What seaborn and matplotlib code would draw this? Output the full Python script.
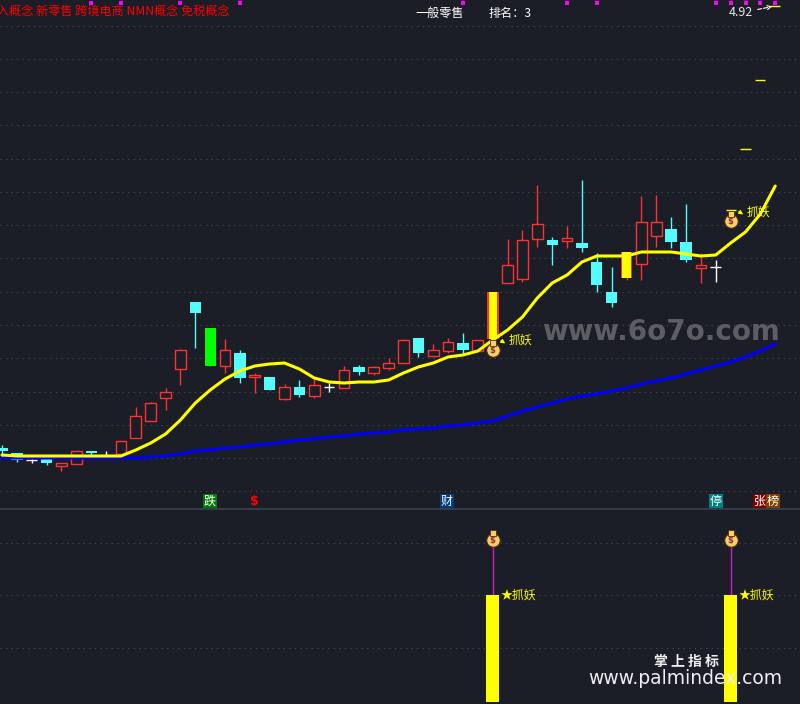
import matplotlib
matplotlib.use("Agg")
import numpy as np
import pandas as pd
import matplotlib.pyplot as plt
import seaborn as sns

# candles (height above the pane bottom)
kinds = list("ccwcr rcwr rrrr cgrc rcrc rwrc rrrc rrcr yrrr crcc cyrr ccrw".replace(" ", ""))
body_top = [60, 55, 48, 49, 45, 57, 57, 52, 67, 92, 105, 116, 158, 206, 180, 158, 155, 133, 131, 121,
            121, 123, 121, 138, 141, 141, 145, 168, 170, 158, 166, 165, 168, 216, 243, 268, 284, 268,
            270, 265, 246, 216, 256, 286, 286, 279, 266, 243, 241]
body_bot = [57, 48, 48, 45, 42, 44, 55, 52, 54, 70, 87, 110, 139, 195, 142, 142, 130, 131, 118, 109,
            113, 112, 121, 120, 136, 135, 140, 145, 155, 152, 157, 158, 157, 169, 225, 229, 269, 263,
            267, 260, 223, 205, 230, 244, 272, 266, 248, 240, 241]
highs = [63, 55, 50, 49, 45, 57, 57, 57, 67, 101, 106, 120, 159, 206, 180, 169, 158, 135, 131, 124,
         128, 129, 125, 142, 143, 142, 150, 169, 170, 164, 170, 175, 168, 216, 269, 278, 323, 271,
         282, 328, 255, 241, 256, 312, 313, 291, 304, 255, 248]
lows = [51, 46, 45, 43, 37, 44, 52, 51, 54, 70, 87, 98, 123, 160, 142, 135, 125, 115, 118, 108,
        111, 110, 116, 120, 133, 133, 138, 145, 151, 151, 155, 154, 157, 169, 225, 226, 261, 243,
        260, 256, 216, 201, 228, 228, 261, 260, 246, 225, 226]

ma_short = [53, 52, 52, 52, 52, 52, 52, 52, 52, 58, 65, 74, 88, 105, 118, 129, 137, 142, 144, 145,
            139, 130, 126, 125, 126, 126, 128, 135, 141, 145, 151, 153, 157, 168, 178, 191, 210, 225,
            233, 246, 252, 252, 252, 256, 256, 256, 254, 252, 253, 265, 276, 294, 322]
ma_long = [50, 50, 50, 50, 50, 50, 50, 50, 50, 50, 51, 52, 54, 57, 58, 60, 61, 63, 64, 66,
           68, 69, 71, 72, 74, 75, 76, 78, 79, 80, 82, 83, 85, 87, 92, 97, 101, 105,
           109, 112, 114, 117, 120, 124, 127, 130, 134, 138, 142, 146, 151, 157, 164]

projected_idx = [49, 50, 51, 52]
projected_val = [298, 359, 428, 502]
flag_idx = [6, 8, 12, 16, 31, 38, 40, 48, 49, 50, 51, 52]
signal_idx = [33, 49]
signal_val = [107, 107]
stem_val = [155, 155]
upper_grid = [482, 449, 416, 383, 349, 316, 283, 250, 216, 183, 150, 116, 83, 50, 17]
lower_grid = [159, 107, 54]

BG = "#1b1e27"
RED = "#ff3232"
CYAN = "#54fcfc"
YELLOW = "#ffff00"
CJK = ["Noto Sans CJK SC", "DejaVu Sans"]

sns.set_theme(style="dark", rc={"axes.facecolor": BG, "figure.facecolor": BG})
plt.rcParams["font.family"] = CJK

W, H = 800, 704
PITCH = 14.87
fig = plt.figure(figsize=(W / 100, H / 100), dpi=100)
ax = fig.add_axes([0, 1 - 508 / H, 1, 508 / H])
low = fig.add_axes([0, 0, 1, 195 / H])
xlim = (-2 / PITCH, (W - 2) / PITCH)


def px(x, y):
    return x / W, 1 - y / H


def money_bag(a, i, v):
    a.scatter([i], [v], s=95, c="#f4cf6a", edgecolors="#5a2a10", linewidths=0.8, zorder=6)
    a.scatter([i], [v + 7], s=22, c="#f4cf6a", marker="s", edgecolors="#5a2a10", linewidths=0.6, zorder=6)
    a.text(i, v - 0.5, "$", color="#8a3030", fontsize=6, fontweight="bold", ha="center", va="center",
           family="DejaVu Sans", zorder=7)


# candles
for i, k in enumerate(kinds):
    w_color = {"r": RED, "c": CYAN, "w": "white", "g": "#00ff00", "y": RED}[k]
    ax.vlines(i, lows[i], highs[i], color=w_color, lw=1.0, zorder=2)
    if k == "w":
        ax.hlines(body_top[i], i - 0.36, i + 0.36, color="white", lw=1.0, zorder=3)
    elif k == "r":
        ax.bar(i, body_top[i] - body_bot[i], 0.72, bottom=body_bot[i], facecolor=BG, edgecolor=RED, lw=1.0, zorder=3)
    elif k == "y":
        ax.bar(i, body_top[i] - body_bot[i], 0.78, bottom=body_bot[i], facecolor=RED, lw=0, zorder=3)
        ax.bar(i, body_top[i] - body_bot[i], 0.55, bottom=body_bot[i], facecolor=YELLOW, lw=0, zorder=3)
    else:
        color = CYAN if k == "c" else "#00ff00"
        ax.bar(i, body_top[i] - body_bot[i], 0.76, bottom=body_bot[i], facecolor=color, lw=0, zorder=3)

lines = pd.DataFrame({"i": range(len(ma_short)), "short": ma_short, "long": ma_long})
sns.lineplot(data=lines, x="i", y="long", ax=ax, color="#0000ff", lw=2.2, zorder=4)
sns.lineplot(data=lines, x="i", y="short", ax=ax, color=YELLOW, lw=2.2, zorder=5)

for i, v in zip(projected_idx, projected_val):
    ax.hlines(v, i - 0.34, i + 0.34, color=YELLOW, lw=1.0, zorder=4)

# signal markers on the price pane
money_bag(ax, 33, 158)
money_bag(ax, 49, 287)
ax.annotate("", xy=(34.0, 163), xytext=(33.4, 169), arrowprops=dict(arrowstyle="-|>", color=YELLOW, lw=0.8, mutation_scale=6), zorder=6)
ax.annotate("", xy=(50.0, 292), xytext=(49.4, 298), arrowprops=dict(arrowstyle="-|>", color=YELLOW, lw=0.8, mutation_scale=6), zorder=6)
ax.text(34.1, 168, "抓妖", color=YELLOW, fontsize=8.6, va="center", zorder=7)
ax.text(50.1, 296, "抓妖", color=YELLOW, fontsize=8.6, va="center", zorder=7)

ax.set_xlim(xlim)
ax.set_ylim(0, 508)
ax.set_yticks(upper_grid)

# lower pane
signal = pd.Series(signal_val, index=signal_idx).reindex(range(len(ma_short)), fill_value=0)
sns.barplot(x=signal.index, y=signal.values, ax=low, native_scale=True, width=0.875, color=YELLOW,
            saturation=1, linewidth=0, zorder=3)
low.vlines(signal_idx, signal_val, stem_val, color="#c81ec8", lw=1.0, zorder=2)
for i, v in zip(signal_idx, stem_val):
    money_bag(low, i, v + 7)
    low.text(i + 0.5, 107, "★抓妖", color=YELLOW, fontsize=8.6, va="center", zorder=7)
low.set_xlim(xlim)
low.set_ylim(-2, 193)
low.set_yticks(lower_grid)

for a in (ax, low):
    a.set_xticks([])
    a.tick_params(left=False, bottom=False, labelleft=False, labelbottom=False)
    a.set_xlabel("")
    a.set_ylabel("")
    a.grid(axis="y", color="#4c4f58", linestyle=(0, (1, 4)), lw=0.8)
    a.set_axisbelow(True)
    for s in a.spines.values():
        s.set_visible(False)

fig.add_artist(plt.Line2D([0, 1], [1 - 508.5 / H] * 2, color="#39434f", lw=1.2))

# flags along the top edge
ax.scatter(flag_idx, [505.5] * len(flag_idx), s=9, marker="s", c="#ff00ff", linewidths=0, zorder=6, clip_on=False)

# header
fig.text(*px(-3, 11), "入概念 新零售 跨境电商 NMN概念 免税概念", color="#ff0000", fontsize=8.7, va="center")
fig.text(*px(416, 13), "一般零售", color="white", fontsize=8.7, va="center")
fig.text(*px(488, 13), "排名：3", color="white", fontsize=8.7, va="center")
fig.text(*px(729, 12), "4.92", color="#e8e8e8", fontsize=9, va="center")
ax.annotate("", xy=px(775, 6), xytext=px(755, 10), xycoords="figure fraction", textcoords="figure fraction",
            arrowprops=dict(arrowstyle="->", color="white", lw=0.8, linestyle="--", mutation_scale=7))

# little tags above the separator
tags = [(210, "跌", "#007a00", "white"), (447, "财", "#003c78", "white"), (716, "停", "#008080", "white"),
        (760, "张", "#800000", "white"), (773, "榜", "#804000", "white")]
for x, s, bg, fg in tags:
    fig.text(*px(x, 501), s, color=fg, fontsize=8.7, ha="center", va="center",
             bbox=dict(boxstyle="square,pad=0.08", facecolor=bg, edgecolor="none"))
fig.text(*px(254, 501), "$", color="#ff0000", fontsize=9, fontweight="bold", ha="center", va="center", family="DejaVu Sans")

# watermarks
fig.text(*px(661, 332), "www.6o7o.com", color="#5c5e62", fontsize=20, fontweight="bold", ha="center", va="center",
         family="DejaVu Sans", zorder=8)
fig.text(*px(686, 662), "掌 上 指 标", color="#eeeeee", fontsize=10, fontweight="bold", ha="center", va="center", zorder=8)
fig.text(*px(685, 679), "www.palmindex.com", color="#eeeeee", fontsize=13.5, ha="center", va="center",
         family="DejaVu Sans", zorder=8)

fig.savefig("out.png", dpi=100, facecolor=BG)
